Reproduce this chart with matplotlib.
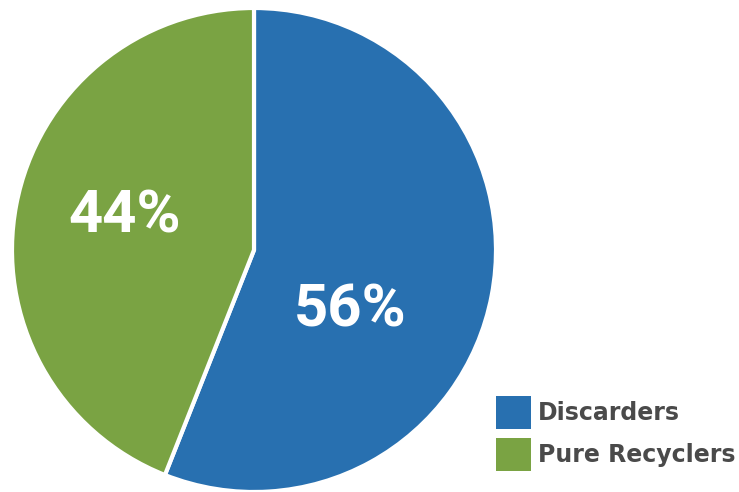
import matplotlib
matplotlib.use("Agg")
import matplotlib.pyplot as plt
from matplotlib.patches import Patch

categories = ["Discarders", "Pure Recyclers"]
values = [56, 44]
colors = ["#2870b0", "#7aa343"]
label_pos = [(0.398, -0.318), (-0.533, 0.074)]

fig = plt.figure(figsize=(7.39, 4.92), dpi=100)
ax = fig.add_axes([12/739, 0, 484/739, 484/492])
wedges, _ = ax.pie(values, colors=colors, startangle=90, counterclock=False,
                   wedgeprops=dict(edgecolor="white", linewidth=3))
ax.set_xlim(-1, 1); ax.set_ylim(-1, 1)
ax.set_aspect("equal")
for v, (x, y) in zip(values, label_pos):
    ax.text(x, y, f"{v}%", color="white", fontsize=43, fontweight="bold",
            family="Roboto", ha="center", va="baseline")

handles = [Patch(facecolor=c, edgecolor="none") for c in colors]
leg = fig.legend(handles, categories, loc="lower left", bbox_to_anchor=(494/739, 19/492),
                 frameon=False, prop=dict(size=17, weight="bold", family="DejaVu Sans"),
                 handlelength=1.45, handleheight=1.72, handletextpad=0.3,
                 labelspacing=0.42, borderaxespad=0, borderpad=0.1)
for t in leg.get_texts():
    t.set_color("#4a4a4a")
fig.savefig("out.png", dpi=100)
